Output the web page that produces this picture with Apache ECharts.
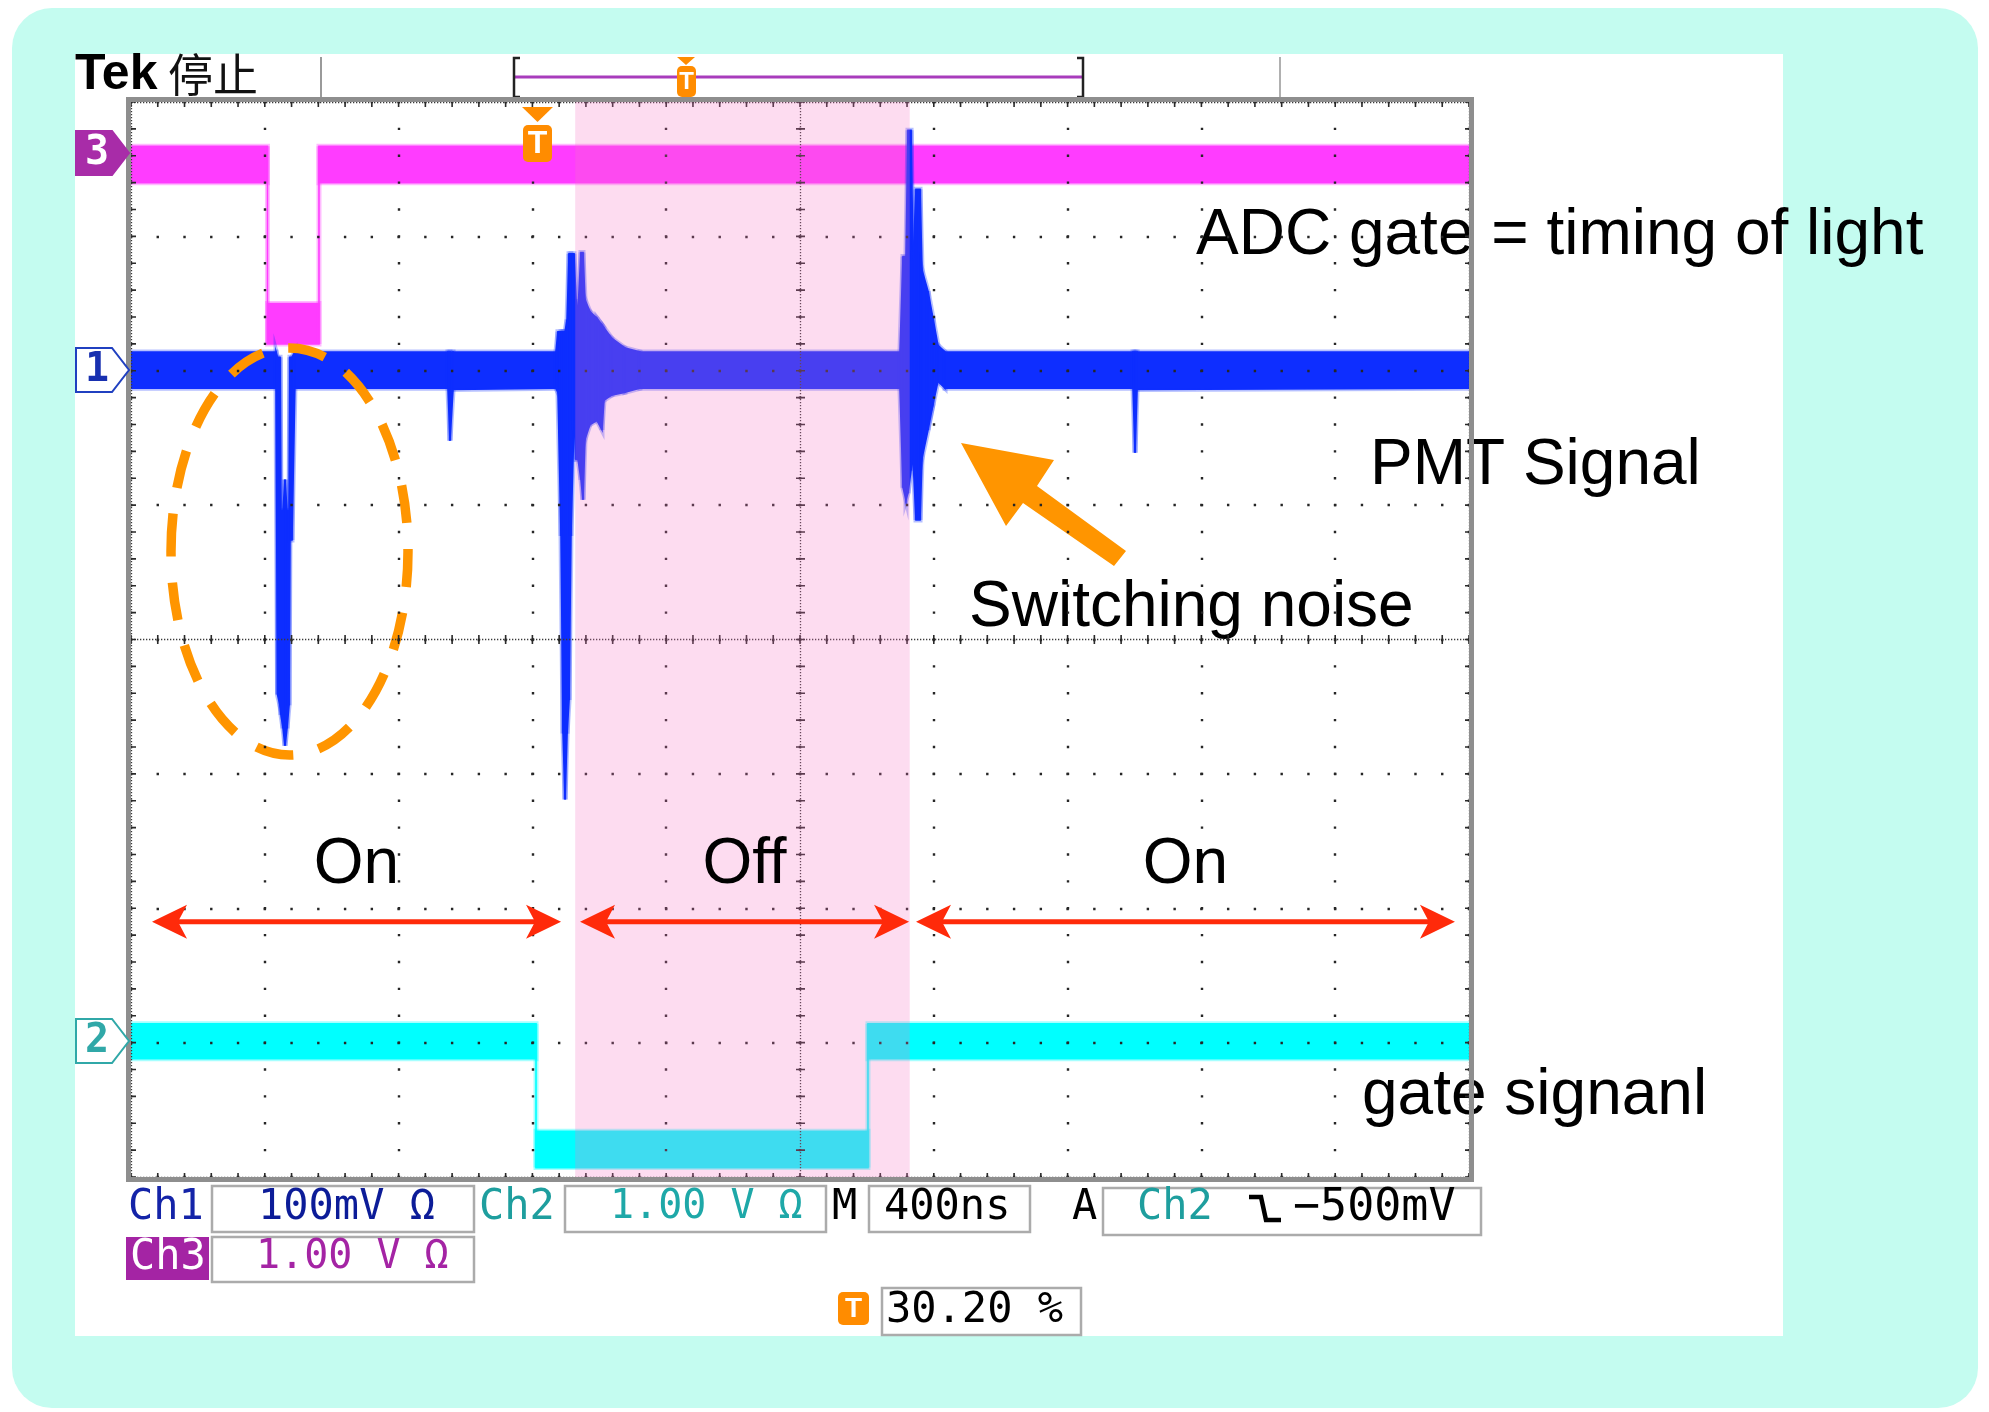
<!DOCTYPE html>
<html>
<head>
<meta charset="utf-8">
<title>ADC gate / PMT signal scope capture</title>
<script src="https://cdn.jsdelivr.net/npm/echarts@6/dist/echarts.min.js"></script>
<style>
html, body { margin: 0; padding: 0; background: #fff; }
#scope { width: 1989px; height: 1412px; }
</style>
</head>
<body>
<div id="scope"></div>
<script>
// screen units: x = divisions (0..10, 400ns/div), y = divisions (-4..4)
// each trace is a noise band: upper / lower envelope
const ch3X  = [0, 1.02, 1.02, 1.405, 1.405, 10];
const ch3Hi = [3.67, 3.67, 2.50, 2.50, 3.67, 3.67];
const ch3Lo = [3.40, 3.40, 2.20, 2.20, 3.40, 3.40];

const ch1X  = [0, 1.084, 1.095, 1.114, 1.121, 1.136, 1.151, 1.166, 1.181, 1.188, 1.203, 1.225,
               2.369, 2.384, 2.407,
               3.176, 3.191, 3.214, 3.229, 3.244, 3.259, 3.274, 3.288, 3.311, 3.326, 3.341, 3.363, 3.378, 3.393, 3.430, 3.483, 3.520, 3.535, 3.595, 3.692, 3.804,
               5.747, 5.770, 5.792, 5.807, 5.830, 5.845, 5.867, 5.897, 5.912, 5.957, 5.994, 6.031, 6.084,
               7.489, 7.504, 7.519, 10];
const ch1Hi = [2.14, 2.14, 2.10, 2.10, 0.96, 0.96, 1.19, 0.96, 0.96, 2.10, 2.10, 2.14,
               2.14, 2.14, 2.14,
               2.14, 2.29, 2.29, 2.29, 2.29, 2.38, 2.87, 2.87, 2.87, 2.53, 2.45, 2.88, 2.88, 2.53, 2.44, 2.39, 2.34, 2.32, 2.24, 2.17, 2.14,
               2.14, 2.85, 2.85, 3.79, 3.79, 2.81, 3.35, 3.35, 2.75, 2.59, 2.39, 2.19, 2.14,
               2.14, 2.14, 2.14, 2.14];
const ch1Lo = [1.87, 1.87, -0.41, -0.49, -0.56, -0.66, -0.79, -0.66, -0.49, 0.74, 0.74, 1.87,
               1.87, 1.48, 1.86,
               1.87, 1.84, 0.77, -0.70, -1.19, -0.70, -0.45, 0.77, 1.63, 1.34, 1.34, 1.19, 1.04, 1.49, 1.60, 1.63, 1.56, 1.78, 1.82, 1.84, 1.87,
               1.87, 1.13, 1.04, 1.09, 1.26, 1.34, 0.89, 0.89, 1.35, 1.56, 1.75, 1.92, 1.87,
               1.87, 1.39, 1.86, 1.87];

const ch2X  = [0, 3.027, 3.027, 5.508, 5.508, 10];
const ch2Hi = [-2.86, -2.86, -3.66, -3.66, -2.86, -2.86];
const ch2Lo = [-3.12, -3.12, -3.93, -3.93, -3.12, -3.12];

// light off window (pink) and On / Off intervals
const offWindow  = [3.32, 5.82];
const phaseStart = [0.157, 3.356, 5.867];
const phaseEnd   = [3.214, 5.815, 9.895];
const phaseLabel = ['On', 'Off', 'On'];

const ARROW_Y = -2.10;
const LABEL_Y = -1.68;
const SANS = '"Liberation Sans", Arial, Helvetica, sans-serif';
const MONO = '"DejaVu Sans Mono", "Liberation Mono", monospace';

var chart = echarts.init(document.getElementById('scope'));

function bandSeries(name, xs, hi, lo, color, halo, z) {
    return {
        type: 'custom',
        name: name,
        z: z,
        silent: true,
        xAxisIndex: 0,
        yAxisIndex: 0,
        data: xs.map((x, i) => [x, hi[i], lo[i]]),
        renderItem: function (params, api) {
            var i = params.dataIndex;
            if (i >= xs.length - 1) return null;
            var pts = [
                api.coord([api.value(0), api.value(1)]),
                api.coord([xs[i + 1], hi[i + 1]]),
                api.coord([xs[i + 1], lo[i + 1]]),
                api.coord([api.value(0), api.value(2)])
            ];
            return {
                type: 'group',
                children: [
                    // soft noisy edge
                    { type: 'polygon', shape: { points: pts },
                      style: { fill: 'none', stroke: halo, lineWidth: 5 } },
                    { type: 'polygon', shape: { points: pts },
                      style: { fill: color, stroke: color, lineWidth: 1.6 } }
                ]
            };
        }
    };
}

function gratAxis(extra) {
    return Object.assign({
        type: 'value',
        z: 3,
        silent: true,
        axisLine: { show: false },
        axisTick: { show: false },
        axisLabel: { show: false }
    }, extra);
}

function txt(text, x, y, font, fill, z, align) {
    return {
        type: 'text', x: x, y: y, z: z, silent: true,
        style: {
            text: text, font: font, fill: fill,
            align: align || 'left', textAlign: align || 'left',
            verticalAlign: 'middle', textVerticalAlign: 'middle'
        }
    };
}

function box(x, y, w, h, z) {
    return { type: 'rect', z: z, silent: true, shape: { x: x, y: y, width: w, height: h },
        style: { fill: 'none', stroke: '#ababab', lineWidth: 2.5 } };
}

function chMarker(y, fill, stroke, label, labelColor) {
    return [
        { type: 'polygon', z: 6, silent: true,
          shape: { points: [[76, y - 22], [112, y - 22], [129, y], [112, y + 22], [76, y + 22]] },
          style: { fill: fill, stroke: stroke, lineWidth: 2 } },
        txt(label, 97, y + 1, 'bold 40px ' + MONO, labelColor, 7, 'center')
    ];
}

function tIcon(x, y, w, h, fs) {
    return [
        { type: 'rect', z: 7, silent: true, shape: { x: x, y: y, width: w, height: h, r: 5 },
          style: { fill: '#ff8c00' } },
        txt('T', x + w / 2, y + h / 2 + 1, 'bold ' + fs + 'px ' + SANS, '#fff', 8, 'center')
    ];
}

var graphics = [
    // page
    { type: 'rect', z: -10, silent: true, shape: { x: 12, y: 8, width: 1966, height: 1400, r: 40 },
      style: { fill: '#c4fcf0' } },
    { type: 'rect', z: -9, silent: true, shape: { x: 75, y: 54, width: 1708, height: 1282 },
      style: { fill: '#ffffff' } },

    // top bar
    txt('Tek', 75, 75, 'bold 50px ' + SANS, '#000', 6),
    txt('停止', 168, 75, '45px "Noto Sans CJK SC", "Noto Sans CJK JP", sans-serif', '#111', 6),
    { type: 'line', z: 6, silent: true, shape: { x1: 321, y1: 57, x2: 321, y2: 99 }, style: { stroke: '#9a9a9a', lineWidth: 2 } },
    { type: 'line', z: 6, silent: true, shape: { x1: 1280, y1: 57, x2: 1280, y2: 99 }, style: { stroke: '#b0b0b0', lineWidth: 2 } },
    { type: 'line', z: 6, silent: true, shape: { x1: 514, y1: 77, x2: 1083, y2: 77 }, style: { stroke: '#a83cbc', lineWidth: 3 } },
    { type: 'polyline', z: 6, silent: true, shape: { points: [[520, 58], [514, 58], [514, 97], [520, 97]] },
      style: { fill: 'none', stroke: '#222', lineWidth: 2.5 } },
    { type: 'polyline', z: 6, silent: true, shape: { points: [[1077, 58], [1083, 58], [1083, 97], [1077, 97]] },
      style: { fill: 'none', stroke: '#222', lineWidth: 2.5 } },
    { type: 'polygon', z: 7, silent: true, shape: { points: [[677, 57], [695, 57], [686, 65]] }, style: { fill: '#ff8c00' } },
    ...tIcon(677, 66, 19, 31, 24),

    // trigger point marker on the screen top
    { type: 'polygon', z: 7, silent: true, shape: { points: [[522, 107], [553, 107], [537.5, 122]] }, style: { fill: '#ff8c00' } },
    ...tIcon(523, 125, 29, 37, 32),

    // graticule frame
    { type: 'rect', z: 6, silent: true, shape: { x: 128.5, y: 99.5, width: 1343, height: 1080 },
      style: { fill: 'none', stroke: '#8e8e8e', lineWidth: 5 } },

    // channel markers
    ...chMarker(153, '#a82ca8', '#a82ca8', '3', '#fff'),
    ...chMarker(370, '#fff', '#2040c0', '1', '#1830b0'),
    ...chMarker(1041, '#fff', '#30a8a8', '2', '#30a8a8'),

    // annotations
    { type: 'ellipse', z: 2.5, silent: true, shape: { cx: 289.5, cy: 551.5, rx: 118.5, ry: 203.5 },
      style: { fill: 'none', stroke: '#ff9500', lineWidth: 9.5, lineDash: [38, 26] } },
    { type: 'polygon', z: 2.5, silent: true,
      shape: { points: [[961, 443], [1054, 460], [1037, 486], [1126, 551], [1114, 566], [1023, 503], [1006, 526]] },
      style: { fill: '#ff9500' } },
    txt('ADC gate = timing of light', 1196, 236, '64px ' + SANS, '#000', 2.5),
    txt('PMT Signal', 1370, 466, '64px ' + SANS, '#000', 2.5),
    txt('Switching noise', 969, 608, '64px ' + SANS, '#000', 2.5),
    txt('gate signanl', 1362, 1096, '64px ' + SANS, '#000', 2.5),

    // status readout
    txt('Ch1', 128, 1208, '42px ' + MONO, '#1424a8', 6),
    box(212, 1186, 262, 46, 6),
    txt('100mV Ω', 258, 1208, '42px ' + MONO, '#0c1c98', 6),
    txt('Ch2', 479, 1208, '42px ' + MONO, '#1e9e9e', 6),
    box(565, 1186, 261, 46, 6),
    txt('1.00 V Ω', 610, 1208, '40px ' + MONO, '#1ea8a8', 6),
    txt('M', 832, 1208, '42px ' + MONO, '#000', 6),
    box(869, 1186, 161, 46, 6),
    txt('400ns', 884, 1208, '42px ' + MONO, '#000', 6),
    txt('A', 1072, 1208, '42px ' + MONO, '#000', 6),
    box(1103, 1188, 378, 47, 6),
    txt('Ch2', 1137, 1208, '42px ' + MONO, '#1e9e9e', 6),
    { type: 'polyline', z: 6, silent: true, shape: { points: [[1249, 1197], [1261, 1197], [1266, 1220], [1281, 1220]] },
      style: { fill: 'none', stroke: '#000', lineWidth: 4.5 } },
    txt('−500mV', 1293, 1208, '45px ' + MONO, '#000', 6),
    { type: 'rect', z: 6, silent: true, shape: { x: 126, y: 1237, width: 83, height: 43 }, style: { fill: '#a424a4' } },
    txt('Ch3', 130, 1258, '42px ' + MONO, '#fff', 7),
    box(212, 1237, 262, 45, 6),
    txt('1.00 V Ω', 256, 1258, '40px ' + MONO, '#a424a4', 6),
    ...tIcon(838, 1292, 31, 33, 28),
    box(882, 1288, 199, 47, 6),
    txt('30.20 %', 886, 1311, '42px ' + MONO, '#000', 6)
];

var option = {
    backgroundColor: '#ffffff',
    animation: false,
    grid: { left: 131, top: 102, width: 1338, height: 1075, show: false },
    xAxis: [
        gratAxis({ min: 0, max: 10, interval: 1,
            splitLine: { show: true, lineStyle: { color: '#262626', width: 2.4, type: [2.4, 24.475], dashOffset: 1.2 } } }),
        gratAxis({ min: 0, max: 10, interval: 5,
            splitLine: { show: true, lineStyle: { color: '#3a3a3a', width: 1.3, type: [1.3, 1.7] } } }),
        gratAxis({ min: 0, max: 10, interval: 5,
            splitLine: { show: true, lineStyle: { color: '#2a2a2a', width: 9, type: [1.6, 25.275], dashOffset: 0.8 } } })
    ],
    yAxis: [
        gratAxis({ min: -4, max: 4, interval: 1,
            splitLine: { show: true, lineStyle: { color: '#262626', width: 2.4, type: [2.4, 24.36], dashOffset: 1.2 } } }),
        gratAxis({ min: -4, max: 4, interval: 4,
            splitLine: { show: true, lineStyle: { color: '#3a3a3a', width: 1.3, type: [1.3, 1.7] } } }),
        gratAxis({ min: -4, max: 4, interval: 4,
            splitLine: { show: true, lineStyle: { color: '#2a2a2a', width: 9, type: [1.6, 25.16], dashOffset: 0.8 } } })
    ],
    graphic: { elements: graphics },
    series: [
        bandSeries('Ch2', ch2X, ch2Hi, ch2Lo, '#00ffff', 'rgba(0,255,255,0.35)', 1),
        bandSeries('Ch3', ch3X, ch3Hi, ch3Lo, '#ff3cff', 'rgba(255,60,255,0.35)', 1),
        bandSeries('Ch1', ch1X, ch1Hi, ch1Lo, '#0e2eff', 'rgba(14,46,255,0.3)', 2),
        {
            // light-off window, drawn over traces and graticule
            type: 'custom',
            name: 'off',
            z: 4,
            silent: true,
            data: [offWindow],
            renderItem: function (params, api) {
                var a = api.coord([api.value(0), 4]);
                var b = api.coord([api.value(1), -4]);
                return { type: 'rect', shape: { x: a[0], y: a[1], width: b[0] - a[0], height: b[1] - a[1] },
                    style: { fill: 'rgba(247,115,195,0.25)' } };
            }
        },
        {
            type: 'custom',
            name: 'phases',
            z: 5,
            silent: true,
            data: phaseStart.map((s, i) => [s, phaseEnd[i]]),
            renderItem: function (params, api) {
                var a = api.coord([api.value(0), ARROW_Y]);
                var b = api.coord([api.value(1), ARROW_Y]);
                var m = api.coord([(api.value(0) + api.value(1)) / 2, LABEL_Y]);
                var red = '#ff2a0a';
                var y = a[1];
                return {
                    type: 'group',
                    children: [
                        { type: 'line', shape: { x1: a[0] + 20, y1: y, x2: b[0] - 20, y2: y },
                          style: { stroke: red, lineWidth: 5 } },
                        { type: 'polygon', shape: { points: [[a[0], y], [a[0] + 35, y - 17], [a[0] + 26, y], [a[0] + 35, y + 17]] },
                          style: { fill: red } },
                        { type: 'polygon', shape: { points: [[b[0], y], [b[0] - 35, y - 17], [b[0] - 26, y], [b[0] - 35, y + 17]] },
                          style: { fill: red } },
                        { type: 'text', x: m[0], y: m[1],
                          style: { text: phaseLabel[params.dataIndex], font: '64px ' + SANS, fill: '#000',
                                   align: 'center', verticalAlign: 'middle' } }
                    ]
                };
            }
        }
    ]
};

chart.setOption(option);
window.addEventListener('resize', () => {
    chart.resize();
}, false);
</script>
</body>
</html>
